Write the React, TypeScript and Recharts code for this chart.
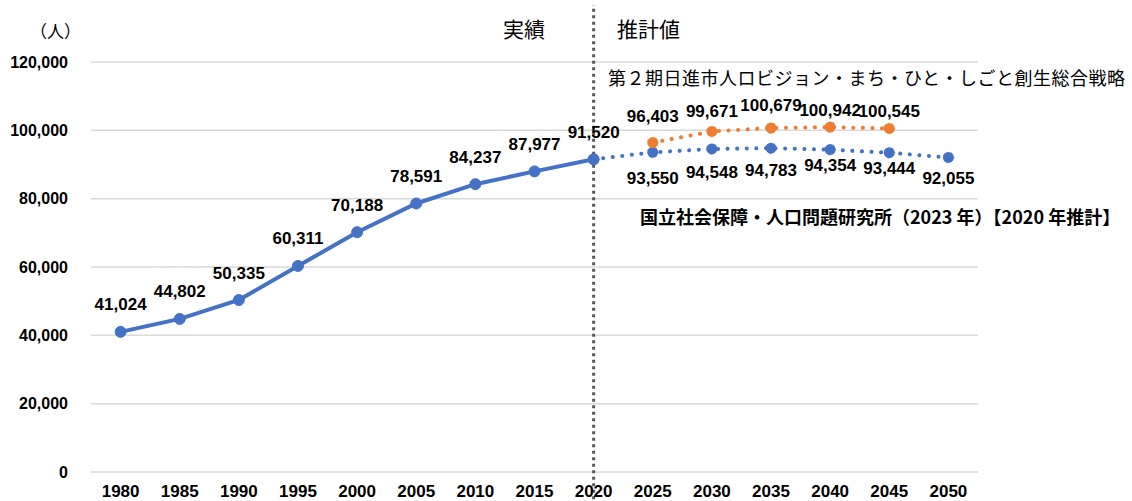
import {
  ComposedChart,
  Line,
  XAxis,
  YAxis,
  CartesianGrid,
  ReferenceLine,
  LabelList,
} from "recharts";

const years = ["1980", "1985", "1990", "1995", "2000", "2005", "2010", "2015", "2020", "2025", "2030", "2035", "2040", "2045", "2050"];
const actual = [41024, 44802, 50335, 60311, 70188, 78591, 84237, 87977, 91520, null, null, null, null, null, null];
const ipssProjection = [null, null, null, null, null, null, null, null, 91520, 93550, 94548, 94783, 94354, 93444, 92055];
const cityVision = [null, null, null, null, null, null, null, null, null, 96403, 99671, 100679, 100942, 100545, null];
const yTicks = [0, 20000, 40000, 60000, 80000, 100000, 120000];

// label placement (px from the point), per category index
const ipssLabelDy = [0, 0, 0, 0, 0, 0, 0, 0, 0, 26, 24, 22, 16, 16, 21];
const visionLabelDy = [0, 0, 0, 0, 0, 0, 0, 0, 0, -26, -20, -23, -17, -17, 0];

const BLUE = "#4472C4";
const ORANGE = "#ED7D31";
const JP = '"Noto Sans CJK JP", "Noto Sans", sans-serif';
const NUM = '"Liberation Sans", Arial, sans-serif';

const data = years.map((year, i) => ({
  year,
  actual: actual[i],
  ipss: ipssProjection[i],
  vision: cityVision[i],
}));

const fmt = (v: number) => v.toLocaleString("en-US");

function makeLabel(dy: number | number[], skip: number[] = []) {
  return (props: any) => {
    const { x, y, value, index } = props;
    if (value == null || skip.includes(index)) return null;
    const off = Array.isArray(dy) ? dy[index] : dy;
    return (
      <text
        x={x}
        y={y + off}
        textAnchor="middle"
        dominantBaseline="central"
        fontFamily={NUM}
        fontWeight="bold"
        fontSize={17}
        fill="#000"
      >
        {fmt(value)}
      </text>
    );
  };
}

export default function App() {
  return (
    <div style={{ position: "absolute", left: 0, top: 0, width: 1132, height: 501, background: "#fff" }}>
      <ComposedChart
        width={1132}
        height={501}
        data={data}
        margin={{ top: 62, right: 154, bottom: 0, left: 0 }}
      >
        <CartesianGrid horizontal vertical={false} stroke="#d9d9d9" strokeWidth={1.5} />
        <XAxis
          dataKey="year"
          axisLine={false}
          tickLine={false}
          tickSize={0}
          tickMargin={13}
          height={29}
          interval={0}
          padding={{ left: 29.6, right: 29.6 }}
          tick={{ fontFamily: NUM, fontWeight: "bold", fontSize: 17, fill: "#000" }}
        />
        <YAxis
          domain={[0, 120000]}
          ticks={yTicks}
          axisLine={false}
          tickLine={false}
          tickSize={0}
          tickMargin={23}
          width={91}
          tickFormatter={fmt}
          tick={{ fontFamily: NUM, fontWeight: "bold", fontSize: 16, fill: "#000" }}
        />
        <ReferenceLine
          segment={[
            { x: "2020", y: -8000 },
            { x: "2020", y: 136700 },
          ]}
          ifOverflow="visible"
          stroke="#595959"
          strokeWidth={3}
          strokeDasharray="3 3.5"
        />
        <Line
          dataKey="ipss"
          stroke={BLUE}
          strokeWidth={4}
          strokeDasharray="0.1 9.5"
          strokeLinecap="round"
          dot={{ r: 5.5, fill: BLUE, stroke: BLUE, strokeWidth: 1 }}
          isAnimationActive={false}
          connectNulls={false}
        >
          <LabelList dataKey="ipss" content={makeLabel(ipssLabelDy, [8])} />
        </Line>
        <Line
          dataKey="vision"
          stroke={ORANGE}
          strokeWidth={4}
          strokeDasharray="0.1 9.5"
          strokeLinecap="round"
          dot={{ r: 5.5, fill: ORANGE, stroke: ORANGE, strokeWidth: 1 }}
          isAnimationActive={false}
        >
          <LabelList dataKey="vision" content={makeLabel(visionLabelDy)} />
        </Line>
        <Line
          dataKey="actual"
          stroke={BLUE}
          strokeWidth={4}
          dot={{ r: 5.5, fill: BLUE, stroke: BLUE, strokeWidth: 1 }}
          isAnimationActive={false}
        >
          <LabelList dataKey="actual" content={makeLabel(-27)} />
        </Line>
      </ComposedChart>

      <div style={{ position: "absolute", left: 30, top: 18, fontFamily: JP, fontSize: 17, color: "#000" }}>（人）</div>
      <div style={{ position: "absolute", left: 503, top: 13, fontFamily: JP, fontSize: 21, color: "#000" }}>実績</div>
      <div style={{ position: "absolute", left: 617, top: 13, fontFamily: JP, fontSize: 21, color: "#000" }}>推計値</div>
      <div
        style={{
          position: "absolute",
          left: 608,
          top: 64,
          fontFamily: JP,
          fontSize: 18,
          color: "#000",
          whiteSpace: "nowrap",
          letterSpacing: 0.5,
        }}
      >
        第２期日進市人ロビジョン・まち・ひと・しごと創生総合戦略
      </div>
      <div
        style={{
          position: "absolute",
          left: 640,
          top: 203,
          fontFamily: JP,
          fontSize: 18,
          fontWeight: "bold",
          color: "#000",
          whiteSpace: "nowrap",
        }}
      >
        国立社会保障・人口問題研究所（2023 年）【2020 年推計】
      </div>
    </div>
  );
}
